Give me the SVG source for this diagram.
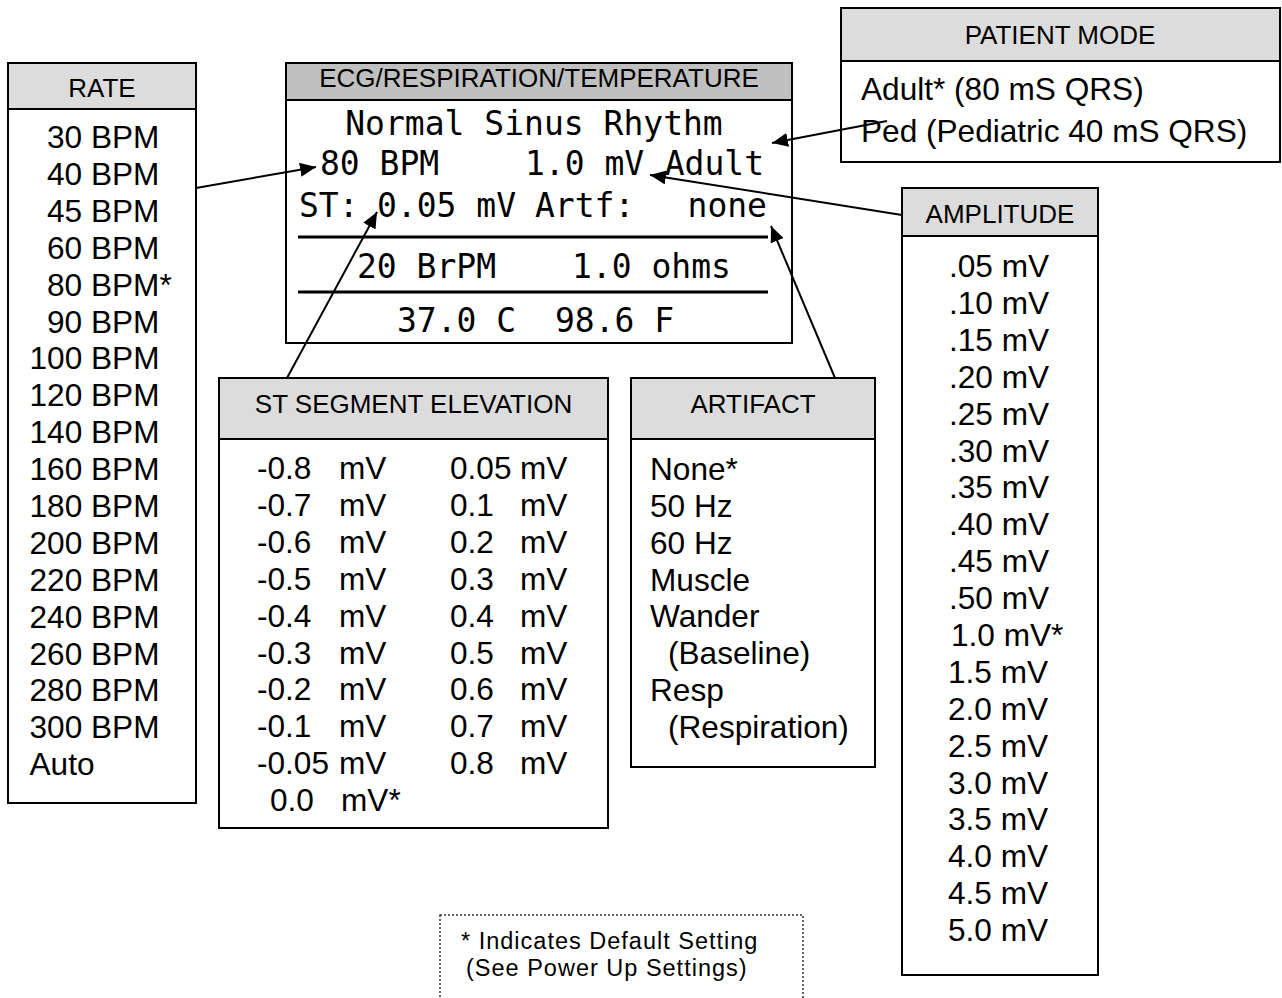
<svg xmlns="http://www.w3.org/2000/svg" width="1282" height="998" viewBox="0 0 1282 998">
<style>
.box{fill:#fff;stroke:#000;stroke-width:2}
.hdr{fill:#dcdcdc;stroke:#000;stroke-width:2}
.hdr2{fill:#c0c0c0;stroke:#000;stroke-width:2}
.ht{font-family:"Liberation Sans",Arial,sans-serif;font-size:26px;fill:#000;text-anchor:middle}
.t{font-family:"Liberation Sans",Arial,sans-serif;font-size:31.6px;fill:#000}
.lcd{font-family:"DejaVu Sans Mono",monospace;font-size:33px;fill:#000}
.ft{font-family:"Liberation Sans",Arial,sans-serif;font-size:23.5px;letter-spacing:1px;fill:#000}
.conn{stroke:#000;stroke-width:2;fill:none}
</style>
<defs>
<marker id="ah" markerUnits="userSpaceOnUse" markerWidth="18" markerHeight="14" refX="16" refY="7" orient="auto">
<path d="M0,0 L16,7 L0,14 Z" fill="#000"/>
</marker>
</defs>
<rect width="1282" height="998" fill="#fff"/>

<g id="rate">
<rect class="box" x="8" y="63" width="188" height="740"/>
<rect class="hdr" x="8" y="63" width="188" height="46"/>
<text class="ht" x="102" y="97">RATE</text>
<text class="t" x="47" y="148">30 BPM</text>
<text class="t" x="47" y="185">40 BPM</text>
<text class="t" x="47" y="222">45 BPM</text>
<text class="t" x="47" y="259">60 BPM</text>
<text class="t" x="47" y="296">80 BPM*</text>
<text class="t" x="47" y="333">90 BPM</text>
<text class="t" x="29.5" y="369">100 BPM</text>
<text class="t" x="29.5" y="406">120 BPM</text>
<text class="t" x="29.5" y="443">140 BPM</text>
<text class="t" x="29.5" y="480">160 BPM</text>
<text class="t" x="29.5" y="517">180 BPM</text>
<text class="t" x="29.5" y="554">200 BPM</text>
<text class="t" x="29.5" y="591">220 BPM</text>
<text class="t" x="29.5" y="628">240 BPM</text>
<text class="t" x="29.5" y="665">260 BPM</text>
<text class="t" x="29.5" y="701">280 BPM</text>
<text class="t" x="29.5" y="738">300 BPM</text>
<text class="t" x="29.5" y="775">Auto</text>
</g>

<g id="lcd">
<rect class="box" x="286" y="63" width="506" height="280"/>
<rect class="hdr2" x="286" y="63" width="506" height="37"/>
<text class="ht" x="539" y="87">ECG/RESPIRATION/TEMPERATURE</text>
<text class="lcd" x="534" y="135" text-anchor="middle">Normal Sinus Rhythm</text>
<text class="lcd" x="320" y="175">80 BPM</text>
<text class="lcd" x="525" y="175">1.0 mV</text>
<text class="lcd" x="764" y="175" text-anchor="end">Adult</text>
<text class="lcd" x="299" y="217">ST:</text>
<text class="lcd" x="377" y="217">0.05 mV</text>
<text class="lcd" x="535" y="217">Artf:</text>
<text class="lcd" x="767" y="217" text-anchor="end">none</text>
<line x1="298" y1="237" x2="768" y2="237" stroke="#000" stroke-width="3"/>
<text class="lcd" x="357" y="278">20 BrPM</text>
<text class="lcd" x="572" y="278">1.0 ohms</text>
<line x1="298" y1="292" x2="768" y2="292" stroke="#000" stroke-width="3"/>
<text class="lcd" x="397" y="332">37.0 C</text>
<text class="lcd" x="555" y="332">98.6 F</text>
</g>

<g id="patient-mode">
<rect class="box" x="841" y="8" width="439" height="154"/>
<rect class="hdr" x="841" y="8" width="439" height="53"/>
<text class="ht" x="1060" y="44">PATIENT MODE</text>
<text class="t" x="861" y="100">Adult* (80 mS QRS)</text>
<text class="t" x="861" y="142">Ped (Pediatric 40 mS QRS)</text>
</g>

<g id="amplitude">
<rect class="box" x="902" y="188" width="196" height="787"/>
<rect class="hdr" x="902" y="188" width="196" height="48"/>
<text class="ht" x="1000" y="223">AMPLITUDE</text>
<text class="t" x="949" y="277">.05 mV</text>
<text class="t" x="949" y="314">.10 mV</text>
<text class="t" x="949" y="351">.15 mV</text>
<text class="t" x="949" y="388">.20 mV</text>
<text class="t" x="949" y="425">.25 mV</text>
<text class="t" x="949" y="462">.30 mV</text>
<text class="t" x="949" y="498">.35 mV</text>
<text class="t" x="949" y="535">.40 mV</text>
<text class="t" x="949" y="572">.45 mV</text>
<text class="t" x="949" y="609">.50 mV</text>
<text class="t" x="951" y="646">1.0 mV*</text>
<text class="t" x="948" y="683">1.5 mV</text>
<text class="t" x="948" y="720">2.0 mV</text>
<text class="t" x="948" y="757">2.5 mV</text>
<text class="t" x="948" y="794">3.0 mV</text>
<text class="t" x="948" y="830">3.5 mV</text>
<text class="t" x="948" y="867">4.0 mV</text>
<text class="t" x="948" y="904">4.5 mV</text>
<text class="t" x="948" y="941">5.0 mV</text>
</g>

<g id="st-segment">
<rect class="box" x="219" y="378" width="389" height="450"/>
<rect class="hdr" x="219" y="378" width="389" height="61"/>
<text class="ht" x="413.5" y="413">ST SEGMENT ELEVATION</text>
<text class="t" x="257" y="479">-0.8</text><text class="t" x="339" y="479">mV</text>
<text class="t" x="257" y="516">-0.7</text><text class="t" x="339" y="516">mV</text>
<text class="t" x="257" y="553">-0.6</text><text class="t" x="339" y="553">mV</text>
<text class="t" x="257" y="590">-0.5</text><text class="t" x="339" y="590">mV</text>
<text class="t" x="257" y="627">-0.4</text><text class="t" x="339" y="627">mV</text>
<text class="t" x="257" y="664">-0.3</text><text class="t" x="339" y="664">mV</text>
<text class="t" x="257" y="700">-0.2</text><text class="t" x="339" y="700">mV</text>
<text class="t" x="257" y="737">-0.1</text><text class="t" x="339" y="737">mV</text>
<text class="t" x="257" y="774">-0.05</text><text class="t" x="339" y="774">mV</text>
<text class="t" x="270" y="811">0.0</text><text class="t" x="341" y="811">mV*</text>
<text class="t" x="450" y="479">0.05</text><text class="t" x="520" y="479">mV</text>
<text class="t" x="450" y="516">0.1</text><text class="t" x="520" y="516">mV</text>
<text class="t" x="450" y="553">0.2</text><text class="t" x="520" y="553">mV</text>
<text class="t" x="450" y="590">0.3</text><text class="t" x="520" y="590">mV</text>
<text class="t" x="450" y="627">0.4</text><text class="t" x="520" y="627">mV</text>
<text class="t" x="450" y="664">0.5</text><text class="t" x="520" y="664">mV</text>
<text class="t" x="450" y="700">0.6</text><text class="t" x="520" y="700">mV</text>
<text class="t" x="450" y="737">0.7</text><text class="t" x="520" y="737">mV</text>
<text class="t" x="450" y="774">0.8</text><text class="t" x="520" y="774">mV</text>
</g>

<g id="artifact">
<rect class="box" x="631" y="378" width="244" height="389"/>
<rect class="hdr" x="631" y="378" width="244" height="61"/>
<text class="ht" x="753" y="413">ARTIFACT</text>
<text class="t" x="650" y="480">None*</text>
<text class="t" x="650" y="517">50 Hz</text>
<text class="t" x="650" y="554">60 Hz</text>
<text class="t" x="650" y="591">Muscle</text>
<text class="t" x="650" y="627">Wander</text>
<text class="t" x="668" y="664">(Baseline)</text>
<text class="t" x="650" y="701">Resp</text>
<text class="t" x="668" y="738">(Respiration)</text>
</g>

<g id="footnote">
<rect x="440" y="915" width="363" height="100" fill="none" stroke="#333" stroke-width="1.5" stroke-dasharray="2,2"/>
<text class="ft" x="461" y="949">* Indicates Default Setting</text>
<text class="ft" x="466" y="976">(See Power Up Settings)</text>
</g>

<g id="connectors">
<line class="conn" x1="196" y1="188" x2="316" y2="167" marker-end="url(#ah)"/>
<line class="conn" x1="887" y1="121" x2="772" y2="143" marker-end="url(#ah)"/>
<line class="conn" x1="902" y1="215" x2="650" y2="175" marker-end="url(#ah)"/>
<line class="conn" x1="287" y1="378" x2="377" y2="212" marker-end="url(#ah)"/>
<line class="conn" x1="835" y1="378" x2="771" y2="226" marker-end="url(#ah)"/>
</g>
</svg>
